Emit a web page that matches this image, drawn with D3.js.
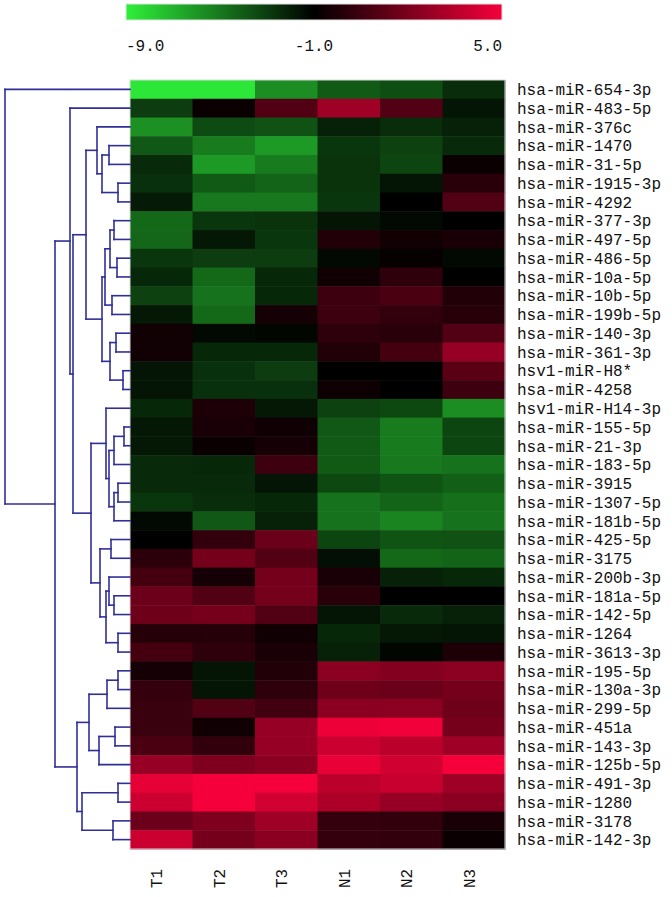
<!DOCTYPE HTML>
<html>
  <head>
    <title>miRNA heatmap</title>
    <style>
      body { margin: 0; background: #fff; }
      text { font-family: "Liberation Mono", "DejaVu Sans Mono", monospace; font-size: 16px; fill: #111; }
    </style>
  </head>
  <body>
    <svg width="672" height="897"></svg>
    <script src="https://cdn.jsdelivr.net/npm/d3@7"></script>
    <script>
      var samples = ['T1', 'T2', 'T3', 'N1', 'N2', 'N3'];

      var mirnas = ['hsa-miR-654-3p', 'hsa-miR-483-5p', 'hsa-miR-376c', 'hsa-miR-1470',
        'hsa-miR-31-5p', 'hsa-miR-1915-3p', 'hsa-miR-4292', 'hsa-miR-377-3p',
        'hsa-miR-497-5p', 'hsa-miR-486-5p', 'hsa-miR-10a-5p', 'hsa-miR-10b-5p',
        'hsa-miR-199b-5p', 'hsa-miR-140-3p', 'hsa-miR-361-3p', 'hsv1-miR-H8*',
        'hsa-miR-4258', 'hsv1-miR-H14-3p', 'hsa-miR-155-5p', 'hsa-miR-21-3p',
        'hsa-miR-183-5p', 'hsa-miR-3915', 'hsa-miR-1307-5p', 'hsa-miR-181b-5p',
        'hsa-miR-425-5p', 'hsa-miR-3175', 'hsa-miR-200b-3p', 'hsa-miR-181a-5p',
        'hsa-miR-142-5p', 'hsa-miR-1264', 'hsa-miR-3613-3p', 'hsa-miR-195-5p',
        'hsa-miR-130a-3p', 'hsa-miR-299-5p', 'hsa-miR-451a', 'hsa-miR-143-3p',
        'hsa-miR-125b-5p', 'hsa-miR-491-3p', 'hsa-miR-1280', 'hsa-miR-3178',
        'hsa-miR-142-3p'];

      // log2 expression, one row per miRNA, columns T1 T2 T3 N1 N2 N3
      var values = [
        [-8.7, -8.7, -5.7, -4.0, -3.6, -2.5],
        [-3.0, -0.75, 1.0, 2.9, 1.0, -1.7],
        [-5.8, -3.5, -3.7, -2.1, -2.5, -2.1],
        [-3.9, -5.1, -6.1, -2.8, -3.2, -2.4],
        [-2.4, -6.1, -5.1, -2.7, -3.3, -0.75],
        [-2.6, -4.0, -4.3, -2.7, -1.7, 0.0],
        [-1.9, -5.0, -5.0, -2.8, -1.0, 1.0],
        [-4.5, -2.8, -2.7, -1.7, -1.3, -1.0],
        [-4.4, -1.8, -2.8, -0.2, -0.6, -0.4],
        [-2.8, -3.0, -3.0, -1.3, -0.85, -1.3],
        [-2.3, -4.5, -2.3, -0.6, 0.1, -1.0],
        [-3.2, -4.8, -2.3, 0.5, 0.8, -0.2],
        [-1.8, -4.5, -0.5, 0.5, 0.2, -0.1],
        [-0.6, -1.3, -1.2, 0.1, 0.0, 1.0],
        [-0.6, -2.3, -2.3, -0.2, 0.7, 2.7],
        [-1.7, -2.6, -3.0, -1.0, -1.0, 1.2],
        [-1.7, -2.6, -2.6, -0.7, -1.0, 0.5],
        [-2.3, -0.3, -1.8, -3.2, -3.4, -5.7],
        [-1.8, -0.4, -0.65, -3.9, -5.1, -3.3],
        [-1.8, -0.75, -0.5, -4.0, -5.1, -3.3],
        [-2.4, -2.3, 0.5, -4.0, -5.0, -4.8],
        [-2.4, -2.4, -1.7, -3.4, -3.8, -4.2],
        [-2.8, -2.5, -2.3, -4.8, -4.3, -4.7],
        [-1.3, -3.9, -2.1, -4.8, -5.4, -4.8],
        [-1.0, 0.2, 1.6, -3.3, -3.8, -3.7],
        [0.05, 1.85, 1.0, -1.5, -4.5, -4.3],
        [0.7, -0.5, 1.85, -0.4, -2.1, -2.3],
        [1.65, 1.0, 1.85, 0.0, -1.0, -1.0],
        [1.7, 1.9, 1.0, -1.7, -2.4, -2.1],
        [-0.1, -0.1, -0.6, -2.3, -1.8, -1.7],
        [0.7, 0.1, -0.4, -2.1, -1.2, -0.3],
        [-0.5, -1.7, -0.2, 2.4, 2.2, 2.4],
        [0.3, -1.7, 0.1, 1.7, 1.6, 1.85],
        [0.4, 1.0, 0.6, 2.4, 2.4, 1.7],
        [0.4, -0.6, 2.7, 4.8, 4.9, 1.9],
        [0.8, 0.2, 2.7, 4.0, 3.6, 2.9],
        [2.7, 2.1, 2.4, 4.7, 4.1, 5.0],
        [4.6, 5.0, 5.0, 3.6, 3.9, 2.9],
        [4.0, 5.0, 4.1, 3.2, 2.7, 2.4],
        [1.65, 2.1, 2.9, 0.3, 0.2, -0.4],
        [4.0, 1.85, 2.4, 0.3, 0.2, -0.75]
      ];

      // row clustering, hclust style: negative = leaf -(row+1), positive = earlier merge (1-based)
      var merges = [
        [-4, -5, 21], [-6, -7, 12], [1, 2, 28], [-3, 3, 33],
        [-8, -9, 16], [-10, -11, 13], [5, 6, 20], [-12, -13, 18],
        [7, 8, 25], [-14, -15, 14], [-16, -17, 7], [10, 11, 20],
        [9, 12, 28], [4, 13, 44], [-19, -20, 6], [15, -21, 16],
        [-22, -23, 12], [17, -24, 16], [16, 18, 21], [-18, 19, 24],
        [-25, -26, 19], [-28, -29, 16], [-27, 22, 21], [-30, -31, 12],
        [23, 24, 24], [21, 25, 30], [20, 26, 39], [14, 27, 57],
        [-2, 28, 60], [-32, -33, 12], [30, -34, 23], [-35, -36, 15],
        [32, -37, 31], [31, 33, 41], [-38, -39, 12], [-40, -41, 17],
        [35, 36, 48], [34, 37, 53], [29, 38, 75], [-1, 39, 125]
      ];

      var colorDomain = [-9, -1, 5];
      var colorRange = ['#2ef03a', '#000000', '#f5003a'];

      var svg = d3.select('svg');

      var x = d3.scaleBand().domain(samples).range([130, 505]);
      var y = d3.scaleBand().domain(mirnas).range([80, 849]);
      var color = d3.scaleLinear().domain(colorDomain).range(colorRange).clamp(true);
      var dist = d3.scaleLinear().domain([0, 125]).range([130, 5]);

      // Heatmap cells
      var cells = [];
      values.forEach(function(row, i) {
        row.forEach(function(v, j) {
          cells.push({ gene: mirnas[i], sample: samples[j], value: v });
        });
      });

      svg.append('g')
        .selectAll('rect')
        .data(cells)
        .enter().append('rect')
          .attr('x', function(d) { return x(d.sample); })
          .attr('y', function(d) { return y(d.gene); })
          .attr('width', x.bandwidth() + 0.5)
          .attr('height', y.bandwidth() + 0.5)
          .style('fill', function(d) { return color(d.value); });

      svg.append('rect')
        .attr('x', x.range()[0]).attr('y', y.range()[0])
        .attr('width', x.range()[1] - x.range()[0])
        .attr('height', y.range()[1] - y.range()[0])
        .style('fill', 'none').style('stroke', '#d8d8d8');

      // Row labels
      svg.append('g')
        .selectAll('text')
        .data(mirnas)
        .enter().append('text')
          .attr('x', 517)
          .attr('y', function(d) { return y(d) + y.bandwidth() / 2; })
          .attr('dy', '0.36em')
          .text(function(d) { return d; });

      // Column labels, rotated
      svg.append('g')
        .selectAll('text')
        .data(samples)
        .enter().append('text')
          .attr('transform', function(d) {
            return 'translate(' + (x(d) + x.bandwidth() / 2 + 1) + ',888) rotate(-90)';
          })
          .text(function(d) { return d; });

      // Dendrogram: work out every node position from the merge list
      var nodes = merges.map(function() { return null; });
      function pos(ref) {
        if (ref < 0) {
          var g = mirnas[-ref - 1];
          return { y: y(g) + y.bandwidth() / 2, h: 0 };
        }
        return nodes[ref - 1];
      }
      var segs = [];
      merges.forEach(function(m, k) {
        var a = pos(m[0]), b = pos(m[1]);
        var xm = dist(m[2]);
        segs.push([xm, a.y, xm, b.y]);
        segs.push([xm, a.y, dist(a.h), a.y]);
        segs.push([xm, b.y, dist(b.h), b.y]);
        nodes[k] = { y: (a.y + b.y) / 2, h: m[2] };
      });

      svg.append('g')
        .selectAll('line')
        .data(segs)
        .enter().append('line')
          .attr('x1', function(d) { return d[0]; })
          .attr('y1', function(d) { return d[1]; })
          .attr('x2', function(d) { return d[2]; })
          .attr('y2', function(d) { return d[3]; })
          .style('stroke', '#2f2f98')
          .style('stroke-width', 1.6)
          .style('stroke-linecap', 'square');

      // Colour key on top
      var defs = svg.append('defs');
      var grad = defs.append('linearGradient').attr('id', 'key');
      grad.selectAll('stop')
        .data(colorRange)
        .enter().append('stop')
          .attr('offset', function(d, i) { return (i / (colorRange.length - 1) * 100) + '%'; })
          .attr('stop-color', function(d) { return d; });

      var keyX = d3.scalePoint().domain(colorDomain).range([126, 502]);
      svg.append('rect')
        .attr('x', 126).attr('y', 4)
        .attr('width', 376).attr('height', 16)
        .style('fill', 'url(#key)')
        .style('stroke', '#e0e0e0');

      var fmt = d3.formatLocale({ decimal: '.', thousands: ',', grouping: [3], currency: ['', ''], minus: '-' }).format('.1f');
      svg.append('g')
        .selectAll('text')
        .data(colorDomain)
        .enter().append('text')
          .attr('x', function(d) { return keyX(d); })
          .attr('y', 51)
          .attr('text-anchor', function(d, i) { return i === 0 ? 'start' : (i === colorDomain.length - 1 ? 'end' : 'middle'); })
          .text(function(d) { return fmt(d); });
    </script>
  </body>
</html>
